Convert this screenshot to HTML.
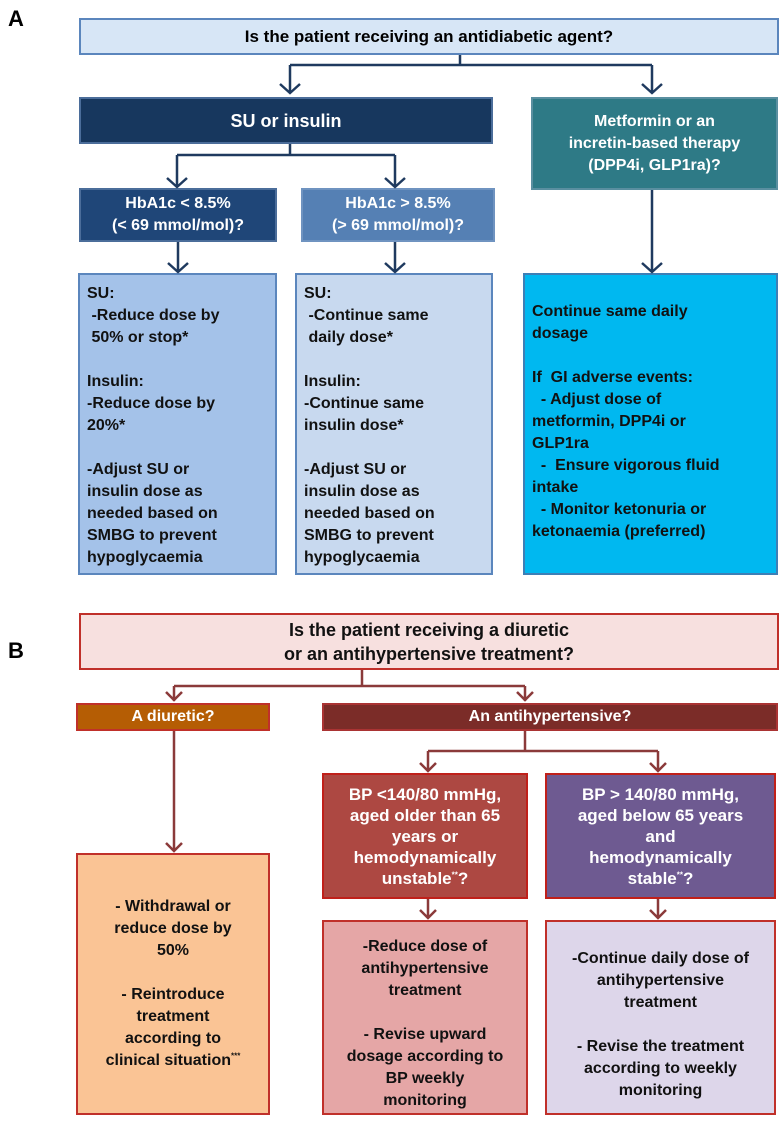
<!DOCTYPE html>
<html><head><meta charset="utf-8"><style>
body{margin:0;width:780px;height:1121px;background:#fff;position:relative;overflow:hidden;font-family:"Liberation Sans",Arial,sans-serif;font-weight:bold;}
.b{position:absolute;box-sizing:border-box;display:flex;align-items:center;justify-content:center;text-align:center;line-height:20px;font-size:16px;}
.t{position:absolute;box-sizing:border-box;font-size:16px;line-height:22px;padding:8px 7px;}
.lbl{position:absolute;font-size:22px;font-weight:bold;}
sup{font-size:8px;line-height:0;}
svg{position:absolute;left:0;top:0}
</style></head><body>
<div class="lbl" style="left:8px;top:6px">A</div>
<div class="lbl" style="left:8px;top:638px">B</div>

<div class="b" style="left:79px;top:18px;width:700px;height:37px;background:#d7e6f6;border:2px solid #5b86bd;font-size:17px;">Is the patient receiving an antidiabetic agent?</div>
<div class="b" style="left:79px;top:97px;width:414px;height:47px;background:#17375e;border:2px solid #4b6d9a;color:#fff;font-size:18px;">SU or insulin</div>
<div class="b" style="left:531px;top:97px;width:247px;height:93px;background:#2e7a86;border:2px solid #5a8fa0;color:#fff;line-height:22px;"><div>Metformin or an<br>incretin-based therapy<br>(DPP4i, GLP1ra)?</div></div>
<div class="b" style="left:79px;top:188px;width:198px;height:54px;background:#1f4678;border:2px solid #4b6d9a;color:#fff;line-height:22px;"><div>HbA1c &lt; 8.5%<br>(&lt; 69 mmol/mol)?</div></div>
<div class="b" style="left:301px;top:188px;width:194px;height:54px;background:#5580b4;border:2px solid #6f93c0;color:#fff;line-height:22px;"><div>HbA1c &gt; 8.5%<br>(&gt; 69 mmol/mol)?</div></div>

<div class="t" style="left:78px;top:273px;width:199px;height:302px;background:#a4c2e9;border:2px solid #5b86bd;color:#111;">SU:<br>&nbsp;-Reduce dose by<br>&nbsp;50% or stop*<br><br>Insulin:<br>-Reduce dose by<br>20%*<br><br>-Adjust SU or<br>insulin dose as<br>needed based on<br>SMBG to prevent<br>hypoglycaemia</div>
<div class="t" style="left:295px;top:273px;width:198px;height:302px;background:#c8d9ef;border:2px solid #5b86bd;color:#111;">SU:<br>&nbsp;-Continue same<br>&nbsp;daily dose*<br><br>Insulin:<br>-Continue same<br>insulin dose*<br><br>-Adjust SU or<br>insulin dose as<br>needed based on<br>SMBG to prevent<br>hypoglycaemia</div>
<div class="t" style="left:523px;top:273px;width:255px;height:302px;background:#00b8f0;border:2px solid #3d7fb6;color:#111;padding-top:26px;">Continue same daily<br>dosage<br><br>If&nbsp; GI adverse events:<br>&nbsp; - Adjust dose of<br>metformin, DPP4i or<br>GLP1ra<br>&nbsp; -&nbsp; Ensure vigorous fluid<br>intake<br>&nbsp; - Monitor ketonuria or<br>ketonaemia (preferred)</div>

<div class="b" style="left:79px;top:613px;width:700px;height:57px;background:#f7e0df;border:2px solid #c0302a;font-size:18px;line-height:24px;color:#111;"><div>Is the patient receiving a diuretic<br>or an antihypertensive treatment?</div></div>
<div class="b" style="left:76px;top:703px;width:194px;height:28px;background:#b55d04;border:2px solid #c0302a;color:#fff;">A diuretic?</div>
<div class="b" style="left:322px;top:703px;width:456px;height:28px;background:#7b2c28;border:2px solid #a33;color:#fff;">An antihypertensive?</div>
<div class="b" style="left:322px;top:773px;width:206px;height:126px;background:#ad4842;border:2px solid #c0201a;color:#fff;font-size:17px;line-height:21px;"><div>BP &lt;140/80 mmHg,<br>aged older than 65<br>years or<br>hemodynamically<br>unstable<sup>**</sup>?</div></div>
<div class="b" style="left:545px;top:773px;width:231px;height:126px;background:#6e5a91;border:2px solid #c0201a;color:#fff;font-size:17px;line-height:21px;"><div>BP &gt; 140/80 mmHg,<br>aged below 65 years<br>and<br>hemodynamically<br>stable<sup>**</sup>?</div></div>
<div class="b" style="left:76px;top:853px;width:194px;height:262px;background:#fac495;border:2px solid #c0302a;color:#111;line-height:22px;"><div>- Withdrawal or<br>reduce dose by<br>50%<br><br>- Reintroduce<br>treatment<br>according to<br>clinical situation<sup>***</sup></div></div>
<div class="b" style="left:322px;top:920px;width:206px;height:195px;background:#e5a6a6;border:2px solid #c0302a;color:#111;line-height:22px;align-items:flex-start;padding-top:14px;"><div>-Reduce dose of<br>antihypertensive<br>treatment<br><br>- Revise upward<br>dosage according to<br>BP weekly<br>monitoring</div></div>
<div class="b" style="left:545px;top:920px;width:231px;height:195px;background:#ddd6ea;border:2px solid #c0302a;color:#111;line-height:22px;align-items:flex-start;padding-top:26px;"><div>-Continue daily dose of<br>antihypertensive<br>treatment<br><br>- Revise the treatment<br>according to weekly<br>monitoring</div></div>

<svg width="780" height="1121" fill="none" stroke-width="2.5">
<g stroke="#1f3a5f">
<path d="M460 55V65M290 65H652M290 65V92M652 65V92M280 84l10 9 10-9M642 84l10 9 10-9"/>
<path d="M290 144V155M177 155H395M177 155V186M395 155V186M167 178l10 9 10-9M385 178l10 9 10-9"/>
<path d="M178 242V271M168 263l10 9 10-9M395 242V271M385 263l10 9 10-9M652 190V271M642 263l10 9 10-9"/>
</g>
<g stroke="#8b3a3a">
<path d="M362 670V686M174 686H525M174 686V701M525 686V701M166 692l8 8 8-8M517 692l8 8 8-8"/>
<path d="M174 731V851M166 843l8 8 8-8"/>
<path d="M525 731V751M428 751H658M428 751V771M658 751V771M420 763l8 8 8-8M650 763l8 8 8-8"/>
<path d="M428 899V918M420 910l8 8 8-8M658 899V918M650 910l8 8 8-8"/>
</g>
</svg>
</body></html>
